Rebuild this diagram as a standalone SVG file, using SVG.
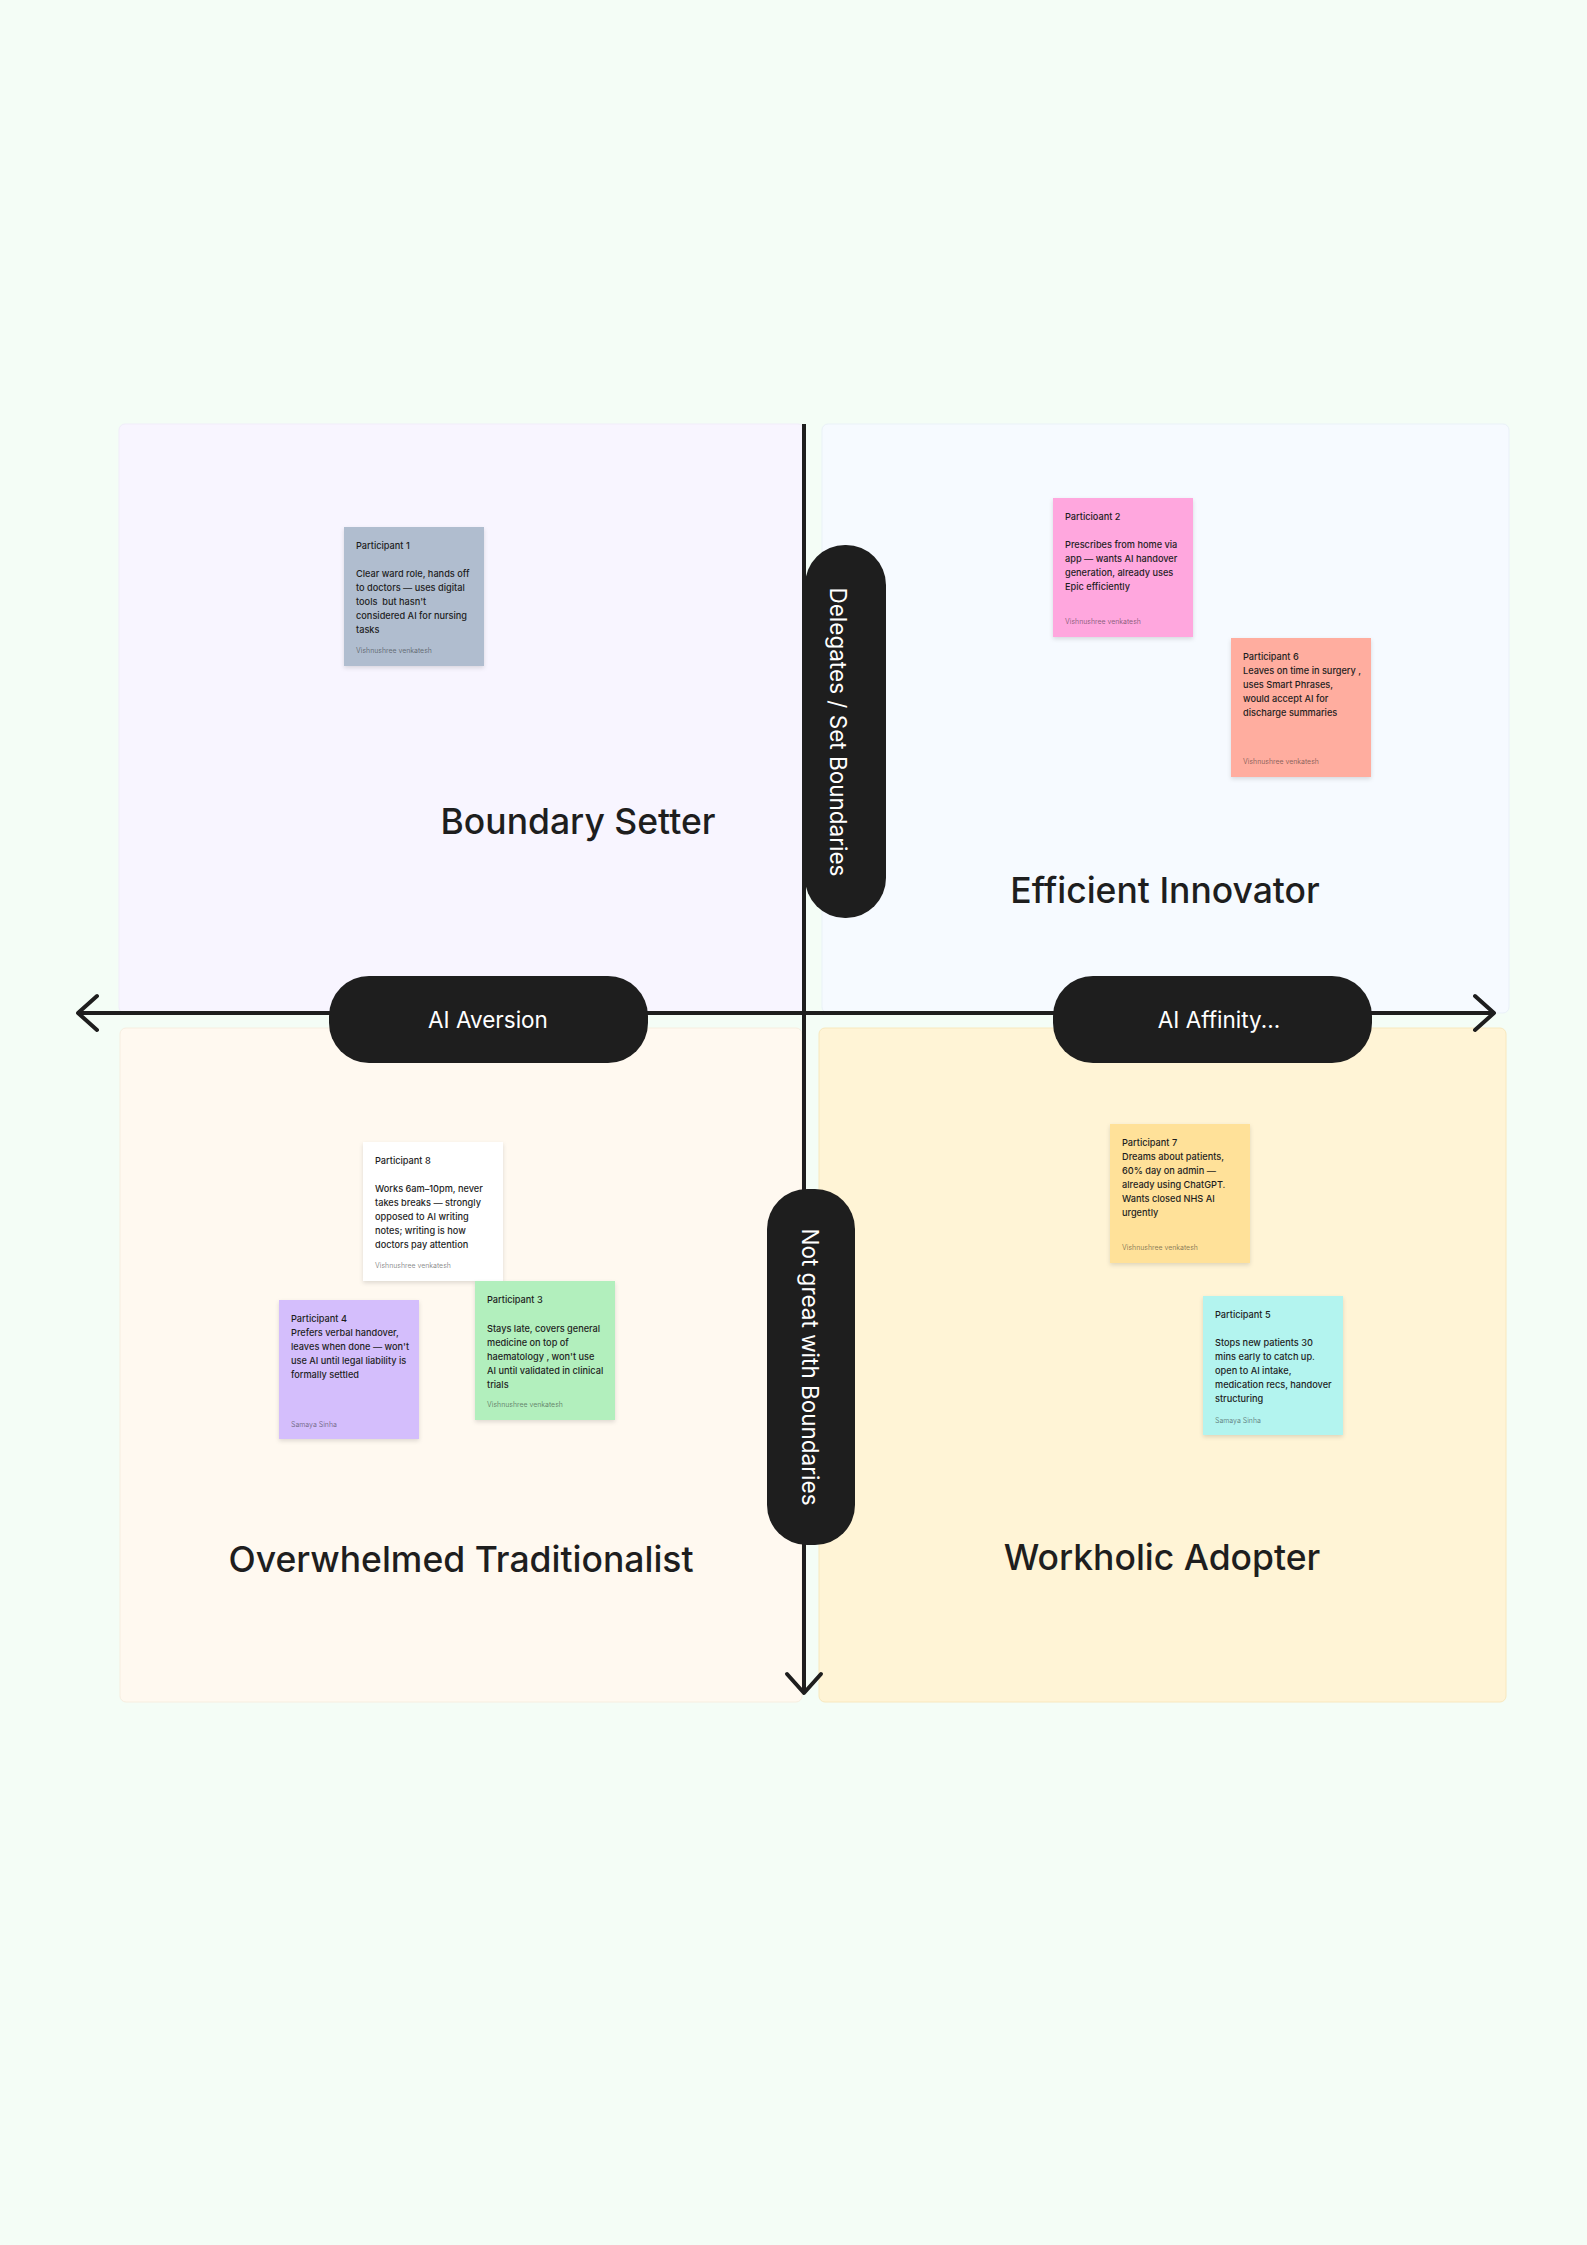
<svg xmlns="http://www.w3.org/2000/svg" width="1587" height="2245" viewBox="0 0 1587 2245">
<style>
.bg{fill:#F4FDF6}
.quad{stroke-width:1}
.qtitle{font-family:Inter,"Liberation Sans",sans-serif;font-size:35.5px;font-weight:500;fill:#1e1e1e;text-anchor:middle}
.pill{fill:#1e1e1e}
.ptext{font-family:Inter,"Liberation Sans",sans-serif;font-size:22.5px;font-weight:400;fill:#ffffff;text-anchor:middle}
.axis{stroke:#1e1e1e;stroke-width:4;fill:none}
.note{filter:url(#sh)}
.nt{font-family:Inter,"Liberation Sans",sans-serif;font-size:9.2px;font-weight:500;fill:#1e1e1e}
.na{font-family:Inter,"Liberation Sans",sans-serif;font-size:6.9px;fill:#1e1e1e;fill-opacity:0.55}
</style>
<defs>
<filter id="sh" x="-20%" y="-20%" width="140%" height="150%">
<feDropShadow dx="0" dy="2" stdDeviation="2" flood-color="#000" flood-opacity="0.13"/>
</filter>
<marker id="chev" viewBox="-22 -20 26 40" refX="0" refY="0" markerWidth="26" markerHeight="40" markerUnits="userSpaceOnUse" orient="auto-start-reverse" overflow="visible">
<path d="M -19 -17 L 0 0 L -19 17" fill="none" stroke="#1e1e1e" stroke-width="4" stroke-linecap="round" stroke-linejoin="round"/>
</marker>
</defs>
<rect class="bg" x="0" y="0" width="1587" height="2245"/>

<g id="quadrant-boundary-setter">
<rect class="quad" x="119" y="424" width="685" height="589" rx="6" fill="#F8F5FF" stroke="#F1EDFA"/>
<text class="qtitle" x="578" y="834">Boundary Setter</text>
</g>
<g id="quadrant-efficient-innovator">
<rect class="quad" x="822" y="424" width="687" height="589" rx="6" fill="#F6FAFF" stroke="#EAF1F8"/>
<text class="qtitle" x="1165" y="903">Efficient Innovator</text>
</g>
<g id="quadrant-overwhelmed-traditionalist">
<rect class="quad" x="120" y="1028" width="682" height="674" rx="6" fill="#FFF9F0" stroke="#F7EEE0"/>
<text class="qtitle" x="461" y="1572">Overwhelmed Traditionalist</text>
</g>
<g id="quadrant-workholic-adopter">
<rect class="quad" x="819" y="1028" width="687" height="674" rx="6" fill="#FFF4D6" stroke="#F8E8BE"/>
<text class="qtitle" x="1162" y="1570">Workholic Adopter</text>
</g>

<g id="connectors">
<line class="axis" x1="78" y1="1013" x2="1494" y2="1013" marker-start="url(#chev)" marker-end="url(#chev)"/>
<line class="axis" x1="804" y1="424" x2="804" y2="1693" marker-end="url(#chev)"/>
</g>

<g id="label-ai-aversion">
<rect class="pill" x="329" y="976" width="319" height="87" rx="40"/>
<text class="ptext" x="488" y="1028">AI Aversion</text>
</g>
<g id="label-ai-affinity">
<rect class="pill" x="1053" y="976" width="319" height="87" rx="40"/>
<text class="ptext" x="1219" y="1028">AI Affinity...</text>
</g>
<g id="label-delegates">
<rect class="pill" x="805" y="545" width="81" height="373" rx="40"/>
<text class="ptext" transform="translate(830 732) rotate(90)" x="0" y="0">Delegates / Set Boundaries</text>
</g>
<g id="label-not-great">
<rect class="pill" x="767" y="1189" width="88" height="356" rx="40"/>
<text class="ptext" transform="translate(802 1367) rotate(90)" x="0" y="0">Not great with Boundaries</text>
</g>

<g id="note-participant-1" transform="translate(344 527)">
<rect class="note" width="140" height="139" fill="#B0BDCF"/>
<text class="nt" x="12" y="22">Participant 1</text>
<text class="nt" x="12" y="50">Clear ward role, hands off</text>
<text class="nt" x="12" y="64">to doctors — uses digital</text>
<text class="nt" x="12" y="78">tools&#160; but hasn't</text>
<text class="nt" x="12" y="92">considered AI for nursing</text>
<text class="nt" x="12" y="106">tasks</text>
<text class="na" x="12" y="126">Vishnushree venkatesh</text>
</g>

<g id="note-participant-2" transform="translate(1053 498)">
<rect class="note" width="140" height="139" fill="#FFA7DE"/>
<text class="nt" x="12" y="22">Particioant 2</text>
<text class="nt" x="12" y="50">Prescribes from home via</text>
<text class="nt" x="12" y="64">app — wants AI handover</text>
<text class="nt" x="12" y="78">generation, already uses</text>
<text class="nt" x="12" y="92">Epic efficiently</text>
<text class="na" x="12" y="126">Vishnushree venkatesh</text>
</g>

<g id="note-participant-6" transform="translate(1231 638)">
<rect class="note" width="140" height="139" fill="#FFAD9F"/>
<text class="nt" x="12" y="22">Participant 6</text>
<text class="nt" x="12" y="36">Leaves on time in surgery ,</text>
<text class="nt" x="12" y="50">uses Smart Phrases,</text>
<text class="nt" x="12" y="64">would accept AI for</text>
<text class="nt" x="12" y="78">discharge summaries</text>
<text class="na" x="12" y="126">Vishnushree venkatesh</text>
</g>

<g id="note-participant-8" transform="translate(363 1142)">
<rect class="note" width="140" height="139" fill="#FFFFFF"/>
<text class="nt" x="12" y="22">Participant 8</text>
<text class="nt" x="12" y="50">Works 6am–10pm, never</text>
<text class="nt" x="12" y="64">takes breaks — strongly</text>
<text class="nt" x="12" y="78">opposed to AI writing</text>
<text class="nt" x="12" y="92">notes; writing is how</text>
<text class="nt" x="12" y="106">doctors pay attention</text>
<text class="na" x="12" y="126">Vishnushree venkatesh</text>
</g>

<g id="note-participant-4" transform="translate(279 1300)">
<rect class="note" width="140" height="139" fill="#D4BEFC"/>
<text class="nt" x="12" y="22">Participant 4</text>
<text class="nt" x="12" y="36">Prefers verbal handover,</text>
<text class="nt" x="12" y="50">leaves when done — won't</text>
<text class="nt" x="12" y="64">use AI until legal liability is</text>
<text class="nt" x="12" y="78">formally settled</text>
<text class="na" x="12" y="127">Samaya Sinha</text>
</g>

<g id="note-participant-3" transform="translate(475 1281)">
<rect class="note" width="140" height="139" fill="#B2EFBD"/>
<text class="nt" x="12" y="22">Participant 3</text>
<text class="nt" x="12" y="51">Stays late, covers general</text>
<text class="nt" x="12" y="65">medicine on top of</text>
<text class="nt" x="12" y="79">haematology , won't use</text>
<text class="nt" x="12" y="93">AI until validated in clinical</text>
<text class="nt" x="12" y="107">trials</text>
<text class="na" x="12" y="126">Vishnushree venkatesh</text>
</g>

<g id="note-participant-7" transform="translate(1110 1124)">
<rect class="note" width="140" height="139" fill="#FFE199"/>
<text class="nt" x="12" y="21.5">Participant 7</text>
<text class="nt" x="12" y="35.5">Dreams about patients,</text>
<text class="nt" x="12" y="49.5">60% day on admin —</text>
<text class="nt" x="12" y="63.5">already using ChatGPT.</text>
<text class="nt" x="12" y="77.5">Wants closed NHS AI</text>
<text class="nt" x="12" y="91.5">urgently</text>
<text class="na" x="12" y="125.5">Vishnushree venkatesh</text>
</g>

<g id="note-participant-5" transform="translate(1203 1296)">
<rect class="note" width="140" height="139" fill="#B3F4EF"/>
<text class="nt" x="12" y="21.5">Participant 5</text>
<text class="nt" x="12" y="49.5">Stops new patients 30</text>
<text class="nt" x="12" y="63.5">mins early to catch up.</text>
<text class="nt" x="12" y="77.5">open to AI intake,</text>
<text class="nt" x="12" y="91.5">medication recs, handover</text>
<text class="nt" x="12" y="105.5">structuring</text>
<text class="na" x="12" y="126.5">Samaya Sinha</text>
</g>
</svg>
